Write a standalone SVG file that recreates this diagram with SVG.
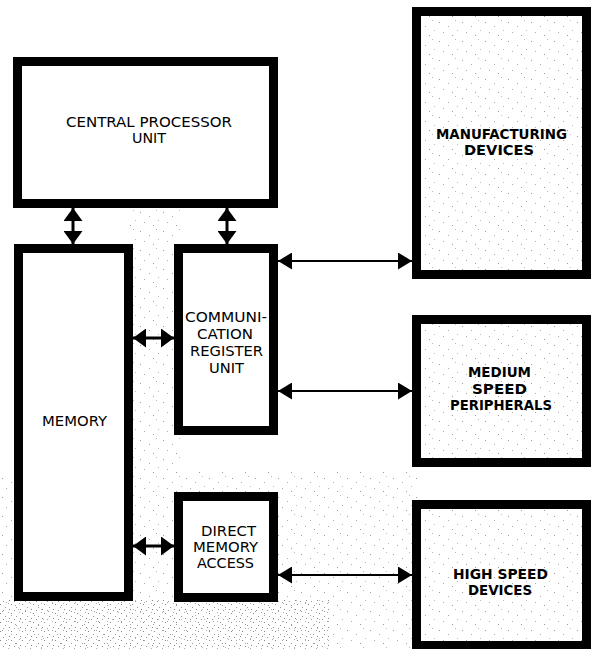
<svg xmlns="http://www.w3.org/2000/svg" width="592" height="649" viewBox="0 0 592 649">
  <defs>
    <pattern id="speck" width="23" height="19" patternUnits="userSpaceOnUse">
      <rect x="2" y="3" width="1" height="1" fill="#999"/>
      <rect x="11" y="7" width="1" height="1" fill="#aaa"/>
      <rect x="18" y="1" width="1" height="1" fill="#bbb"/>
      <rect x="6" y="13" width="1" height="1" fill="#aaa"/>
      <rect x="15" y="16" width="1" height="1" fill="#999"/>
      <rect x="20" y="11" width="1" height="1" fill="#bbb"/>
    </pattern>
    <pattern id="speckDense" width="11" height="9" patternUnits="userSpaceOnUse">
      <rect x="0" y="1" width="1" height="1" fill="#888"/>
      <rect x="5" y="4" width="1" height="1" fill="#999"/>
      <rect x="8" y="0" width="1" height="1" fill="#aaa"/>
      <rect x="3" y="7" width="1" height="1" fill="#999"/>
      <rect x="9" y="6" width="1" height="1" fill="#888"/>
    </pattern>
    <marker id="thin" viewBox="0 0 14 17" refX="14" refY="8.5" markerWidth="14" markerHeight="17" markerUnits="userSpaceOnUse" orient="auto-start-reverse">
      <path d="M0,0 L14,8.5 L0,17 Z" fill="#000"/>
    </marker>
    <marker id="fat" viewBox="0 0 13 19" refX="13" refY="9.5" markerWidth="13" markerHeight="19" markerUnits="userSpaceOnUse" orient="auto-start-reverse">
      <path d="M0,0 L13,9.5 L0,19 Z" fill="#000"/>
    </marker>
  </defs>
  <style>
    .box { fill: #fff; stroke: #000; stroke-width: 9; }
    .sbox { fill: url(#speck); stroke: #000; stroke-width: 9; }
    .lbl { font-family: "DejaVu Sans Condensed", "DejaVu Sans", "Liberation Sans", sans-serif; font-stretch: condensed; font-size: 13.5px; fill: #000; text-anchor: middle; }
    .bold { font-weight: bold; }
    .thin { stroke: #000; stroke-width: 2; fill: none; marker-start: url(#thin); marker-end: url(#thin); }
    .fat { stroke: #000; stroke-width: 3; fill: none; marker-start: url(#fat); marker-end: url(#fat); }
  </style>

  <rect width="592" height="649" fill="#fff"/>
  <rect x="0" y="470" width="420" height="179" fill="url(#speck)"/>
  <rect x="0" y="600" width="330" height="49" fill="url(#speckDense)"/>
  <rect x="130" y="195" width="50" height="410" fill="url(#speck)"/>

  <g id="cpu">
    <rect class="box" x="17.5" y="61.5" width="256" height="142"/>
    <text class="lbl" x="149" y="127" textLength="166" lengthAdjust="spacingAndGlyphs">CENTRAL PROCESSOR</text>
    <text class="lbl" x="149" y="143" textLength="34" lengthAdjust="spacingAndGlyphs">UNIT</text>
  </g>

  <g id="memory">
    <rect class="box" x="18.5" y="248.5" width="110" height="348"/>
    <text class="lbl" x="74.5" y="426" textLength="65" lengthAdjust="spacingAndGlyphs">MEMORY</text>
  </g>

  <g id="cru">
    <rect class="box" x="178.5" y="248.5" width="95" height="182"/>
    <text class="lbl" x="226" y="322" textLength="82" lengthAdjust="spacingAndGlyphs">COMMUNI-</text>
    <text class="lbl" x="225" y="339" textLength="56" lengthAdjust="spacingAndGlyphs">CATION</text>
    <text class="lbl" x="226.5" y="356" textLength="73" lengthAdjust="spacingAndGlyphs">REGISTER</text>
    <text class="lbl" x="226.5" y="373" textLength="35" lengthAdjust="spacingAndGlyphs">UNIT</text>
  </g>

  <g id="dma">
    <rect class="box" x="178.5" y="496.5" width="95" height="101"/>
    <text class="lbl" x="228.5" y="536" textLength="55" lengthAdjust="spacingAndGlyphs">DIRECT</text>
    <text class="lbl" x="225.5" y="552" textLength="65" lengthAdjust="spacingAndGlyphs">MEMORY</text>
    <text class="lbl" x="225.5" y="568" textLength="57" lengthAdjust="spacingAndGlyphs">ACCESS</text>
  </g>

  <g id="manufacturing">
    <rect class="sbox" x="416.5" y="11.5" width="170" height="263"/>
    <text class="lbl bold" x="501.5" y="139" textLength="131" lengthAdjust="spacingAndGlyphs">MANUFACTURING</text>
    <text class="lbl bold" x="499" y="155" textLength="70" lengthAdjust="spacingAndGlyphs">DEVICES</text>
  </g>

  <g id="medium">
    <rect class="sbox" x="416.5" y="319.5" width="170" height="143"/>
    <text class="lbl bold" x="499.5" y="377" textLength="63" lengthAdjust="spacingAndGlyphs">MEDIUM</text>
    <text class="lbl bold" x="499.5" y="393.5" textLength="55" lengthAdjust="spacingAndGlyphs">SPEED</text>
    <text class="lbl bold" x="501" y="410" textLength="102" lengthAdjust="spacingAndGlyphs">PERIPHERALS</text>
  </g>

  <g id="highspeed">
    <rect class="sbox" x="416.5" y="504.5" width="170" height="141"/>
    <text class="lbl bold" x="500.5" y="579" textLength="95" lengthAdjust="spacingAndGlyphs">HIGH SPEED</text>
    <text class="lbl bold" x="500" y="595" textLength="64" lengthAdjust="spacingAndGlyphs">DEVICES</text>
  </g>

  <g id="connectors">
    <line class="fat" x1="73" y1="208" x2="73" y2="244"/>
    <line class="fat" x1="227" y1="208" x2="227" y2="244"/>
    <line class="fat" x1="133" y1="338" x2="174" y2="338"/>
    <line class="fat" x1="133" y1="546" x2="174" y2="546"/>
    <line class="thin" x1="278" y1="261" x2="412" y2="261"/>
    <line class="thin" x1="278" y1="391" x2="412" y2="391"/>
    <line class="thin" x1="278" y1="575" x2="412" y2="575"/>
  </g>
</svg>
